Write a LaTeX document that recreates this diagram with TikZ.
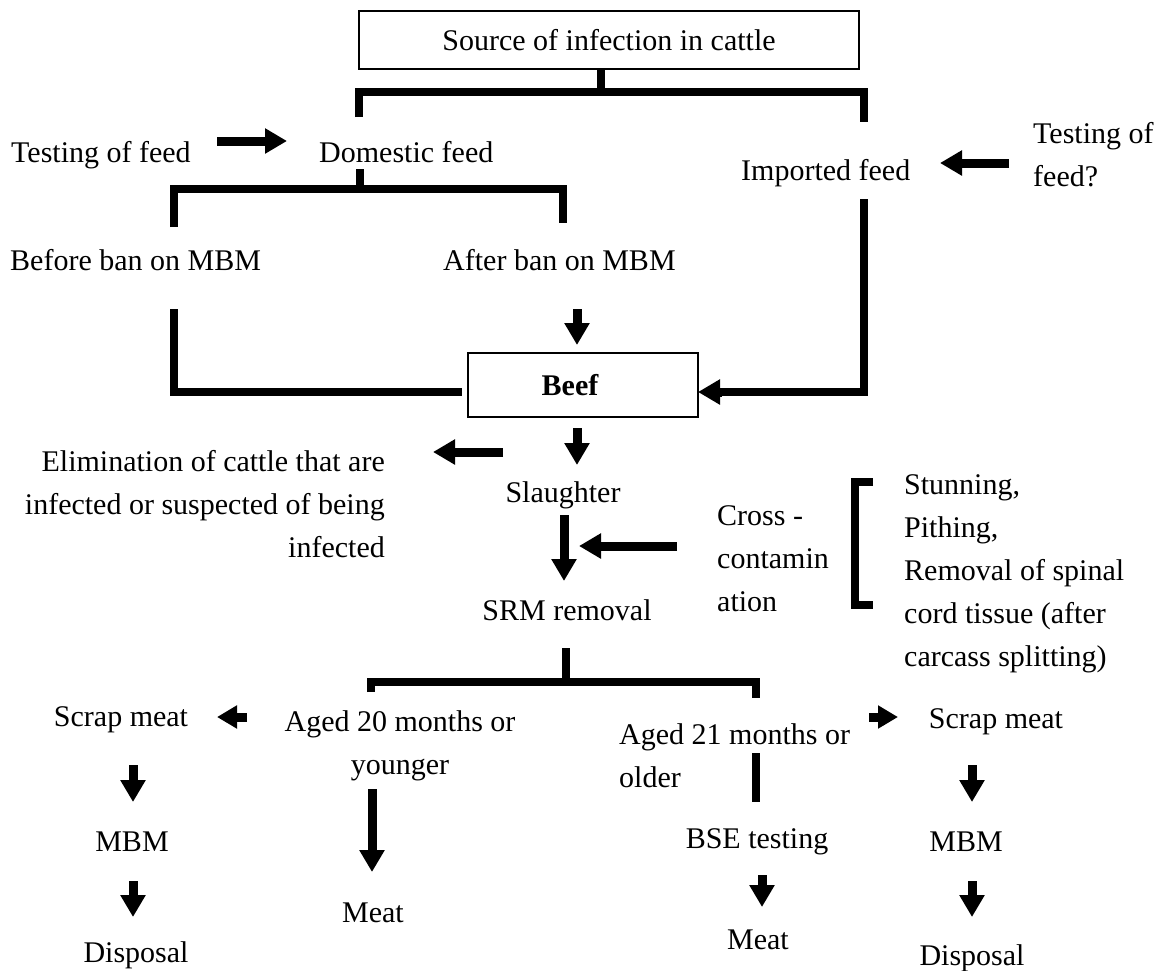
\documentclass[tikz,border=0pt]{standalone}
\usepackage{fontspec}
\setmainfont{Liberation Serif}
\usetikzlibrary{arrows.meta}
\begin{document}
\begin{tikzpicture}[x=1pt,y=-1pt,
  every node/.style={font=\fontsize{30}{43}\selectfont, inner sep=0pt},
  box/.style={draw, line width=2pt},
  bar/.style={line width=8pt},
  arr/.style={line width=9pt, -{Triangle[width=24pt,length=22pt]}},
  sarr/.style={line width=9pt, -{Triangle[width=22pt,length=20pt]}}]
\useasboundingbox (0,0) rectangle (1159,970);

% nodes
\node[box, minimum width=500pt, minimum height=58pt] (src) at (609,40) {Source of infection in cattle};
\node[anchor=west] (tf1) at (11,155) {Testing of feed};
\node[anchor=west] (dom) at (319,152) {Domestic feed};
\node[anchor=west, align=left] (tf2) at (1033,155) {Testing of\\feed?};
\node[anchor=west] (imp) at (741,173) {Imported feed};
\node[anchor=west] (before) at (10,260) {Before ban on MBM};
\node[anchor=west] (after) at (443,260) {After ban on MBM};
\node[box, minimum width=230pt, minimum height=64pt, font=\fontsize{30}{43}\selectfont\bfseries] (beef) at (583,385) {\hspace*{-26pt}Beef};
\node[anchor=east, align=right] (elim) at (385,504) {Elimination of cattle that are\\infected or suspected of being\\infected};
\node (slaughter) at (563,495) {Slaughter};
\node (srm) at (567,610) {SRM removal};
\node[anchor=west, align=left] (cross) at (717,559) {Cross -\\contamin\\ation};
\node[anchor=west, align=left] (stun) at (904,574) {Stunning,\\Pithing,\\Removal of spinal\\cord tissue (after\\carcass splitting)};
\node (scrapL) at (121,720) {Scrap meat};
\node[align=center] (aged20) at (400,746) {Aged 20 months or\\younger};
\node[anchor=west, align=left] (aged21) at (619,756) {Aged 21 months or\\older};
\node (scrapR) at (996,722) {Scrap meat};
\node (mbmL) at (132,842) {MBM};
\node (dispL) at (136,955) {Disposal};
\node (meatL) at (373,913) {Meat};
\node (bse) at (757,842) {BSE testing};
\node (meatR) at (758,940) {Meat};
\node (mbmR) at (966,842) {MBM};
\node (dispR) at (972,958) {Disposal};

% coordinates
\coordinate (s1) at (601,69); \coordinate (s2) at (601,92);
\coordinate (b1) at (359,117); \coordinate (b2) at (359,92);
\coordinate (b3) at (864,92); \coordinate (b4) at (864,122);
\coordinate (d1) at (360,169); \coordinate (d2) at (360,189);
\coordinate (d3) at (174,227); \coordinate (d4) at (174,189);
\coordinate (d5) at (563,189); \coordinate (d6) at (563,223);
\coordinate (e1) at (174,309); \coordinate (e2) at (174,392); \coordinate (e3) at (462,392);
\coordinate (f1) at (577,309); \coordinate (f2) at (577,345);
\coordinate (g1) at (864,199); \coordinate (g2) at (864,392); \coordinate (g3) at (698,392);
\coordinate (t1) at (217,141); \coordinate (t2) at (287,141);
\coordinate (t3) at (1009,163); \coordinate (t4) at (940,163);
\coordinate (h1) at (577,428); \coordinate (h2) at (577,465);
\coordinate (k1) at (503,452); \coordinate (k2) at (433,452);
\coordinate (m1) at (564,515); \coordinate (m2) at (564,581);
\coordinate (c1) at (677,546); \coordinate (c2) at (579,546);
\coordinate (q1) at (873,482); \coordinate (q2) at (855,482);
\coordinate (q3) at (855,605); \coordinate (q4) at (873,605);
\coordinate (r1) at (566,648); \coordinate (r2) at (566,682);
\coordinate (r3) at (371,692); \coordinate (r4) at (371,682);
\coordinate (r5) at (756,682); \coordinate (r6) at (756,698);
\coordinate (u1) at (247,717); \coordinate (u2) at (217,717);
\coordinate (v1) at (372,789); \coordinate (v2) at (372,872);
\coordinate (w1) at (133,765); \coordinate (w2) at (133,802);
\coordinate (w3) at (133,881); \coordinate (w4) at (133,917);
\coordinate (x1) at (756,753); \coordinate (x2) at (756,802);
\coordinate (y1) at (762,875); \coordinate (y2) at (762,907);
\coordinate (z1) at (869,717); \coordinate (z2) at (898,717);
\coordinate (o1) at (972,765); \coordinate (o2) at (972,802);
\coordinate (o3) at (972,881); \coordinate (o4) at (972,917);

% lines
\draw[bar] (s1) -- (s2);
\draw[bar] (b1) -- (b2) -- (b3) -- (b4);
\draw[bar] (d1) -- (d2);
\draw[bar] (d3) -- (d4) -- (d5) -- (d6);
\draw[bar] (e1) -- (e2) -- (e3);
\draw[arr] (f1) -- (f2);
\draw[line width=8pt] (g1) -- (g2) -- ([xshift=22pt]g3);
\draw[arr] ([xshift=24pt]g3) -- (g3);
\draw[arr] (t1) -- (t2);
\draw[arr] (t3) -- (t4);
\draw[arr] (h1) -- (h2);
\draw[arr] (k1) -- (k2);
\draw[arr] (m1) -- (m2);
\draw[arr] (c1) -- (c2);
\draw[bar] (q1) -- (q2) -- (q3) -- (q4);
\draw[bar] (r1) -- (r2);
\draw[bar] (r3) -- (r4) -- (r5) -- (r6);
\draw[sarr] (u1) -- (u2);
\draw[arr] (v1) -- (v2);
\draw[arr] (w1) -- (w2);
\draw[arr] (w3) -- (w4);
\draw[bar] (x1) -- (x2);
\draw[arr] (y1) -- (y2);
\draw[sarr] (z1) -- (z2);
\draw[arr] (o1) -- (o2);
\draw[arr] (o3) -- (o4);
\end{tikzpicture}
\end{document}
